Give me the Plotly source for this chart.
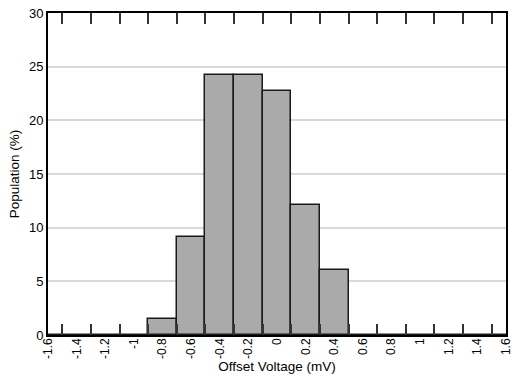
import plotly.graph_objects as go

categories = [-1.6, -1.4, -1.2, -1.0, -0.8, -0.6, -0.4, -0.2, 0.0, 0.2, 0.4, 0.6, 0.8, 1.0, 1.2, 1.4, 1.6]
population = [0, 0, 0, 0, 1.52, 9.09, 24.24, 24.24, 22.73, 12.12, 6.06, 0, 0, 0, 0, 0, 0]
tick_labels = ["-1.6", "-1.4", "-1.2", "-1", "-0.8", "-0.6", "-0.4", "-0.2", "0", "0.2", "0.4", "0.6", "0.8", "1", "1.2", "1.4", "1.6"]
bin_edges = [-1.5, -1.3, -1.1, -0.9, -0.7, -0.5, -0.3, -0.1, 0.1, 0.3, 0.5, 0.7, 0.9, 1.1, 1.3, 1.5]
y_ticks = [0, 5, 10, 15, 20, 25, 30]

fig = go.Figure()
fig.add_trace(go.Bar(
    x=categories, y=population, width=0.2, xaxis="x",
    marker=dict(color="#aaaaaa", line=dict(color="#1a1a1a", width=1.5)),
))
# invisible companion trace so the label axis is drawn
fig.add_trace(go.Scatter(
    x=categories, y=population, xaxis="x2", mode="markers",
    marker=dict(opacity=0), hoverinfo="skip",
))

fig.update_layout(
    width=519, height=385,
    margin=dict(l=48, r=6, t=8, b=50),
    paper_bgcolor="white", plot_bgcolor="white",
    font=dict(family="Liberation Sans, Arial, sans-serif", size=12, color="black"),
    showlegend=False, bargap=0,
    xaxis=dict(
        range=[-1.6, 1.6], tickmode="array", tickvals=bin_edges, showticklabels=False,
        ticks="inside", ticklen=11, tickwidth=2, tickcolor="#333333", showgrid=False,
        showline=True, linecolor="black", linewidth=2, mirror="ticks", zeroline=False,
    ),
    xaxis2=dict(
        overlaying="x", side="bottom", anchor="y",
        range=[-1.6, 1.6], tickmode="array", tickvals=categories, ticktext=tick_labels,
        tickangle=-90, ticks="", showgrid=False, showline=False, zeroline=False,
        tickfont=dict(size=12),
        title=dict(text="Offset Voltage (mV)", font=dict(size=13.5), standoff=2),
    ),
    yaxis=dict(
        range=[0, 30], tickmode="array", tickvals=y_ticks, ticks="",
        showgrid=True, gridcolor="#d9d9d9", gridwidth=1.5,
        showline=True, linecolor="black", linewidth=2, mirror=True,
        tickfont=dict(size=13), zeroline=False,
        title=dict(text="Population (%)", font=dict(size=13.5), standoff=6),
    ),
)

fig.write_html("out.html")
